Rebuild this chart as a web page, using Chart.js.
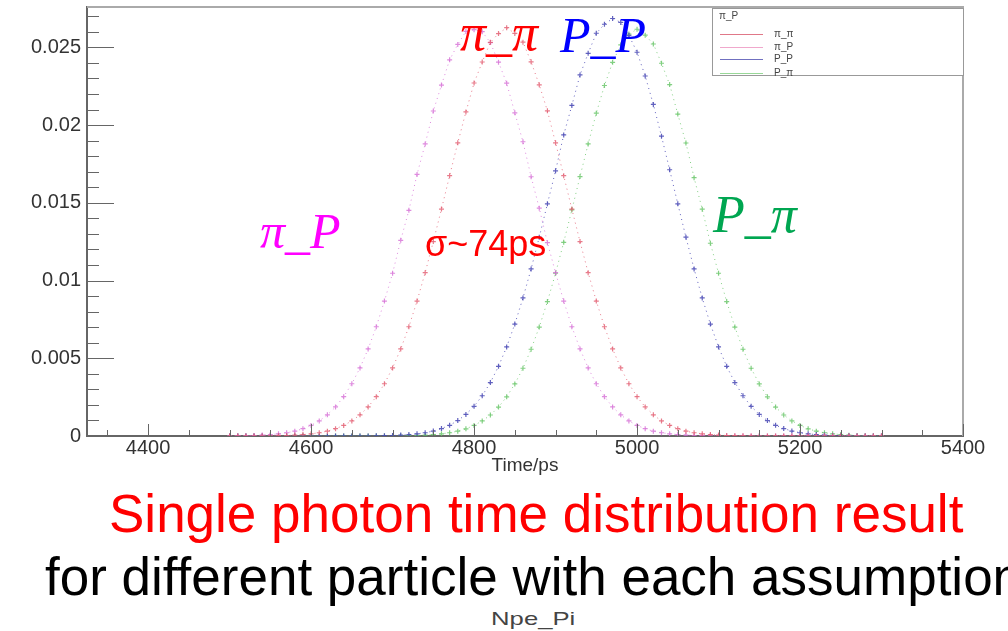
<!DOCTYPE html>
<html>
<head>
<meta charset="utf-8">
<title>Single photon time distribution</title>
<script src="https://cdn.jsdelivr.net/npm/chart.js@4.4.1/dist/chart.umd.min.js"></script>
<style>
  html, body { margin: 0; padding: 0; background: #fff; }
  body { width: 1008px; height: 631px; overflow: hidden; position: relative;
         font-family: 'Liberation Sans', Arial, sans-serif; }
  #wrap { position: absolute; left: 0; top: 0; width: 1008px; height: 485px; }
  .t { position: absolute; white-space: nowrap; line-height: 1; }
  .sym { font-family: 'Liberation Serif', 'Times New Roman', serif; font-style: italic; }
  #legend { position: absolute; left: 712px; top: 8px; width: 250px; height: 66px;
            border: 1px solid #999; background: #fff; font-size: 10px; color: #444; }
  #legend .row { position: absolute; left: 7px; height: 10px; }
  #legend .ln { position: absolute; left: 0; top: 5px; width: 43px; height: 1px; }
  #legend .lb { position: absolute; left: 54px; top: 0; line-height: 10px; }
</style>
</head>
<body>
<div id="wrap"><canvas id="chart" width="1008" height="485"></canvas></div>

<div id="legend"><div class="t" style="left:6px;top:2px;">π_P</div></div>

<!-- labels on the plot -->
<div class="t sym" style="left:460px;top:7px;font-size:52px;color:#ff0000;">π_π</div>
<div class="t sym" style="left:560px;top:10px;font-size:50px;color:#0000ff;">P_P</div>
<div class="t sym" style="left:260px;top:206px;font-size:50px;color:#ff00ff;">π_P</div>
<div class="t sym" style="left:713px;top:189px;font-size:52px;color:#00a651;">P_π</div>
<div class="t" style="left:425px;top:226px;font-size:36px;color:#ff0000;">σ~74ps</div>

<!-- captions -->
<div class="t" style="left:109px;top:487px;font-size:53px;color:#ff0000;">Single photon time distribution result</div>
<div class="t" style="left:45px;top:550px;font-size:53px;color:#000;">for different particle with each assumption</div>
<div class="t" style="left:502px;top:609px;font-size:19px;color:#444;transform:scaleX(1.35);transform-origin:50% 50%;">Npe_Pi</div>

<script>
// bin centres (ps)
var times = [
  4500,4510,4520,4530,4540,4550,4560,4570,4580,4590,
  4600,4610,4620,4630,4640,4650,4660,4670,4680,4690,
  4700,4710,4720,4730,4740,4750,4760,4770,4780,4790,
  4800,4810,4820,4830,4840,4850,4860,4870,4880,4890,
  4900,4910,4920,4930,4940,4950,4960,4970,4980,4990,
  5000,5010,5020,5030,5040,5050,5060,5070,5080,5090,
  5100,5110,5120,5130,5140,5150,5160,5170,5180,5190,
  5200,5210,5220,5230,5240,5250,5260,5270,5280,5290,
  5300
];

// pi_pi
var piPi = [
  0,0,0,0,0,0.00001,0.00002,0.00003,0.00006,0.00009,
  0.00014,0.00021,0.00031,0.00047,0.00068,0.00097,0.00136,0.00187,0.00253,0.00336,
  0.00438,0.00560,0.00703,0.00868,0.01051,0.01251,0.01460,0.01675,0.01886,0.02085,
  0.02271,0.02406,0.02533,0.02589,0.02627,0.02590,0.02534,0.02407,0.02259,0.02092,
  0.01886,0.01675,0.01460,0.01251,0.01051,0.00868,0.00703,0.00560,0.00438,0.00336,
  0.00253,0.00187,0.00136,0.00097,0.00068,0.00047,0.00031,0.00021,0.00014,0.00009,
  0.00006,0.00003,0.00002,0.00001,0,0,0,0,0,0,
  0,0,0,0,0,0,0,0,0,0,
  0
];

// pi_P
var piP = [
  0,0.00001,0.00002,0.00003,0.00006,0.00009,0.00014,0.00021,0.00031,0.00047,
  0.00068,0.00097,0.00136,0.00187,0.00253,0.00336,0.00438,0.00560,0.00703,0.00868,
  0.01047,0.01259,0.01452,0.01683,0.01879,0.02091,0.02258,0.02420,0.02519,0.02603,
  0.02614,0.02601,0.02531,0.02405,0.02270,0.02079,0.01893,0.01668,0.01466,0.01244,
  0.01051,0.00868,0.00703,0.00560,0.00438,0.00336,0.00253,0.00187,0.00136,0.00097,
  0.00068,0.00047,0.00031,0.00021,0.00014,0.00009,0.00006,0.00003,0.00002,0.00001,
  0,0,0,0,0,0,0,0,0,0,
  0,0,0,0,0,0,0,0,0,0,
  0
];

// P_P
var pP = [
  0,0,0,0,0,0,0,0,0,0,
  0,0,0,0,0,0,0,0,0.00001,0.00002,
  0.00003,0.00006,0.00009,0.00014,0.00021,0.00032,0.00048,0.00069,0.00099,0.00139,
  0.00191,0.00259,0.00344,0.00448,0.00573,0.00720,0.00888,0.01075,0.01279,0.01494,
  0.01706,0.01937,0.02127,0.02323,0.02462,0.02591,0.02649,0.02686,0.02661,0.02578,
  0.02469,0.02316,0.02133,0.01929,0.01713,0.01494,0.01279,0.01075,0.00888,0.00720,
  0.00573,0.00448,0.00344,0.00259,0.00191,0.00139,0.00099,0.00069,0.00048,0.00032,
  0.00021,0.00014,0.00009,0.00006,0.00003,0.00002,0.00001,0,0,0,
  0
];

// P_pi
var pPi = [
  0,0,0,0,0,0,0,0,0,0,
  0,0,0,0,0,0,0,0,0,0,
  0,0.00001,0.00002,0.00003,0.00005,0.00009,0.00014,0.00021,0.00031,0.00046,
  0.00068,0.00097,0.00135,0.00186,0.00252,0.00335,0.00436,0.00558,0.00701,0.00865,
  0.01047,0.01246,0.01455,0.01669,0.01879,0.02077,0.02255,0.02404,0.02516,0.02586,
  0.02617,0.02579,0.02522,0.02398,0.02261,0.02071,0.01885,0.01662,0.01459,0.01240,
  0.01047,0.00865,0.00701,0.00558,0.00436,0.00335,0.00252,0.00186,0.00135,0.00097,
  0.00068,0.00046,0.00031,0.00021,0.00014,0.00009,0.00005,0.00003,0.00002,0.00001,
  0
];

var seriesNames  = ['π_π', 'π_P', 'P_P', 'P_π'];
var seriesColors = ['rgba(226,90,110,0.8)', 'rgba(214,110,214,0.8)', 'rgba(70,70,180,0.85)', 'rgba(100,196,100,0.8)'];
var legendColors = ['#e07888', '#f0a8cc', '#7070c0', '#98d898'];

var xTicks      = [4400, 4600, 4800, 5000, 5200, 5400];
var xTickLabels = ['4400', '4600', '4800', '5000', '5200', '5400'];
var yTicks      = [0, 0.005, 0.01, 0.015, 0.02, 0.025];
var yTickLabels = ['0', '0.005', '0.01', '0.015', '0.02', '0.025'];

var FONT = "'Liberation Sans', Arial, sans-serif";
Chart.defaults.font.family = FONT;

function makeSet(i, vals) {
  return {
    label: seriesNames[i],
    data: vals.map(function(v, k) { return { x: times[k], y: v }; }),
    showLine: true,
    borderColor: seriesColors[i],
    borderWidth: 1,
    borderDash: [1, 4],
    pointStyle: 'cross',
    pointRadius: 2.5,
    pointBorderWidth: 1.2,
    pointBorderColor: seriesColors[i],
    pointBackgroundColor: seriesColors[i]
  };
}

// legend box (inside plot, top right)
var legend = document.getElementById('legend');
var rowTops = [20, 33, 45, 59];
seriesNames.forEach(function(name, i) {
  var row = document.createElement('div');
  row.className = 'row';
  row.style.top = rowTops[i] + 'px';
  row.innerHTML = '<div class="ln" style="background:' + legendColors[i] + '"></div><div class="lb">' + name + '</div>';
  legend.appendChild(row);
});

// ROOT style frame and inward ticks
var rootFrame = {
  id: 'rootFrame',
  afterDatasetsDraw: function(chart) {
    var c = chart.ctx, a = chart.chartArea, x = chart.scales.x, y = chart.scales.y;
    c.save();
    c.strokeStyle = '#aaa';
    c.lineWidth = 2;
    c.beginPath();
    c.moveTo(a.left, a.top);
    c.lineTo(a.right, a.top);
    c.lineTo(a.right, a.bottom);
    c.stroke();

    c.strokeStyle = '#666';
    c.lineWidth = 1;
    c.beginPath();
    for (var k = 0; k <= 27; k++) {
      var py = Math.round(y.getPixelForValue(k / 1000)) + 0.5;
      var len = (k % 5 === 0) ? 27 : 12;
      c.moveTo(a.left, py);
      c.lineTo(a.left + len, py);
    }
    for (var t = 4350; t <= 5400; t += 50) {
      var px = Math.round(x.getPixelForValue(t)) + 0.5;
      var l2 = ((t - 4400) % 200 === 0) ? 12 : 6;
      c.moveTo(px, a.bottom);
      c.lineTo(px, a.bottom - l2);
    }
    c.stroke();
    c.restore();
  }
};

var chart = new Chart(document.getElementById('chart').getContext('2d'), {
  type: 'scatter',
  data: {
    datasets: [makeSet(0, piPi), makeSet(1, piP), makeSet(2, pP), makeSet(3, pPi)]
  },
  options: {
    responsive: false,
    animation: false,
    devicePixelRatio: 1,
    layout: { padding: { top: 7, right: 45, left: 0, bottom: 0 } },
    plugins: { legend: { display: false }, tooltip: { enabled: false } },
    scales: {
      x: {
        type: 'linear',
        min: 4325,
        max: 5400,
        afterBuildTicks: function(s) { s.ticks = xTicks.map(function(v) { return { value: v }; }); },
        afterFit: function(s) { s.height = 49; s.paddingLeft = 0; s.paddingRight = 0; },
        ticks: {
          callback: function(v, i) { return xTickLabels[i]; },
          font: { size: 20 },
          color: '#333',
          padding: 0,
          maxRotation: 0,
          autoSkip: false
        },
        grid: { display: false, drawTicks: false },
        border: { display: true, color: '#666', width: 2 },
        title: { display: true, text: 'Time/ps', font: { size: 19 }, color: '#333', padding: { top: 0, bottom: 8 } }
      },
      y: {
        type: 'linear',
        min: 0,
        max: 0.0276,
        afterBuildTicks: function(s) { s.ticks = yTicks.map(function(v) { return { value: v }; }); },
        afterFit: function(s) { s.width = 87; s.paddingTop = 0; s.paddingBottom = 0; },
        ticks: {
          callback: function(v, i) { return yTickLabels[i]; },
          font: { size: 20 },
          color: '#333',
          padding: 6
        },
        grid: { display: false, drawTicks: false },
        border: { display: true, color: '#666', width: 2 }
      }
    }
  },
  plugins: [rootFrame]
});
</script>
</body>
</html>
